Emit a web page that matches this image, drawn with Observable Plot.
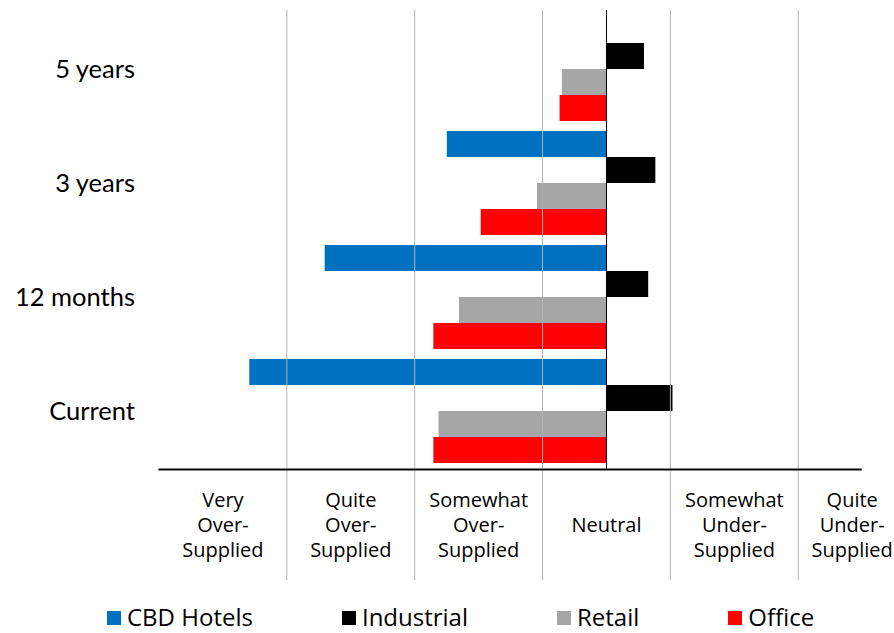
<!DOCTYPE html>
<html>
<head>
<meta charset="utf-8">
<script src="https://cdn.jsdelivr.net/npm/d3@7"></script>
<script src="https://cdn.jsdelivr.net/npm/@observablehq/plot@0.6"></script>
<style>
  html, body { margin: 0; padding: 0; background: #fff; overflow: hidden; }
  #wrap { position: relative; width: 894px; height: 600px; }
  #wrap svg { position: absolute; left: 0; top: 0; }
  #legend {
    width: 894px; height: 33px; box-sizing: border-box;
    display: flex; align-items: center;
    padding-left: 107px; gap: 89px;
    font-family: "Open Sans", sans-serif; font-size: 24px; line-height: 33px; color: #000;
  }
  .item { display: flex; align-items: center; white-space: nowrap; }
  .sw { width: 14px; height: 14px; margin-right: 6px; margin-top: 3px; display: inline-block; }
</style>
</head>
<body>
<div id="wrap"></div>
<div id="legend"></div>
<script>
// ---- data ----
const categories = ["Current", "12 months", "3 years", "5 years"];
const series = ["CBD Hotels", "Industrial", "Retail", "Office"];
const cbdHotels  = [-2.79, -2.20, -1.245, 0];
const industrial = [0.52, 0.33, 0.386, 0.297];
const retail     = [-1.31, -1.15, -0.54, -0.345];
const office     = [-1.35, -1.35, -0.98, -0.363];
const colors = ["#0070C0", "#000000", "#A6A6A6", "#FF0000"];
const tickValues = [-3, -2, -1, 0, 1, 2];
const tickLabels = [
  "Very\nOver-\nSupplied",
  "Quite\nOver-\nSupplied",
  "Somewhat\nOver-\nSupplied",
  "Neutral",
  "Somewhat\nUnder-\nSupplied",
  "Quite\nUnder-\nSupplied"
];
const gridValues = [-2.5, -1.5, -0.5, 0.5, 1.5];

// ---- build table ----
const valuesBySeries = [cbdHotels, industrial, retail, office];
const data = series.flatMap((s, i) =>
  categories.map((c, j) => ({series: s, category: c, value: valuesBySeries[i][j]}))
);
const ticks = tickValues.map((v, i) => ({v, label: tickLabels[i]}));

const common = {
  width: 894,
  height: 600,
  marginTop: 10,
  marginBottom: 131,
  marginLeft: 158.5,
  marginRight: 32.3,
  x: {domain: [-3.5, 2], axis: null}
};

// bars (faceted by horizon)
const bars = Plot.plot({
  ...common,
  style: {background: "transparent", overflow: "visible"},
  y: {domain: series, axis: null, paddingInner: 0, paddingOuter: 0},
  fy: {domain: categories.slice().reverse(), paddingInner: 0.071, paddingOuter: 0.036, label: null},
  color: {domain: series, range: colors},
  marks: [
    Plot.barX(data, {x: "value", y: "series", fy: "category", fill: "series"}),
    Plot.axisFy({anchor: "left", tickSize: 0, tickPadding: 24, fontSize: 25.5, fontFamily: "Lato", fill: "#000", label: null})
  ]
});

// grid, zero line, axis line and category labels (same x scale)
const axes = Plot.plot({
  ...common,
  style: {background: "transparent", overflow: "visible"},
  y: {domain: [0, 1], axis: null},
  marks: [
    Plot.ruleX(gridValues, {x: d => d, stroke: "#b3b3b3", strokeWidth: 1, insetBottom: -111}),
    Plot.ruleX([0], {stroke: "#000", strokeWidth: 1}),
    Plot.ruleY([0], {stroke: "#000", strokeWidth: 2}),
    Plot.text(ticks.slice(0, 5), {
      x: "v", text: "label", frameAnchor: "bottom", dy: 54, lineAnchor: "middle",
      lineHeight: 1.25, fontSize: 20, fontFamily: "Open Sans", fill: "#000"
    }),
    Plot.text(ticks.slice(5), {
      x: "v", text: "label", frameAnchor: "bottom", dy: 54, dx: -10, lineAnchor: "middle",
      lineHeight: 1.25, fontSize: 20, fontFamily: "Open Sans", fill: "#000"
    })
  ]
});

const wrap = document.getElementById("wrap");
wrap.append(bars, axes);

// ---- legend ----
const legend = document.getElementById("legend");
series.forEach((s, i) => {
  const item = document.createElement("span");
  item.className = "item";
  const sw = document.createElement("span");
  sw.className = "sw";
  sw.style.background = colors[i];
  item.append(sw, document.createTextNode(s));
  legend.append(item);
});
</script>
</body>
</html>
